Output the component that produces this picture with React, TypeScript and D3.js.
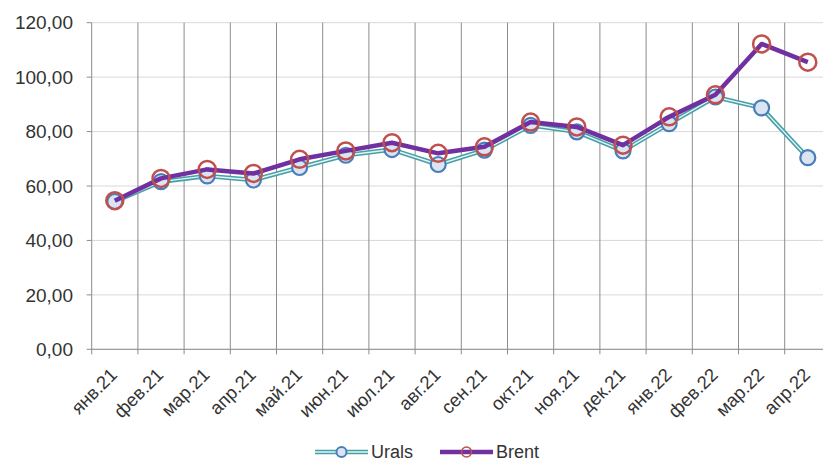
import React from 'react';
import * as d3 from 'd3';

const months = [
  'янв.21', 'фев.21', 'мар.21', 'апр.21', 'май.21', 'июн.21', 'июл.21', 'авг.21',
  'сен.21', 'окт.21', 'ноя.21', 'дек.21', 'янв.22', 'фев.22', 'мар.22', 'апр.22',
];
const urals = [54.3, 61.6, 63.7, 62.2, 66.8, 71.3, 73.4, 67.9, 73.2, 82.3, 79.9, 72.9, 82.9, 92.7, 88.7, 70.4];
const brent = [54.6, 62.8, 66.1, 64.6, 69.8, 72.9, 75.9, 72.0, 74.4, 83.5, 81.7, 75.0, 85.4, 93.5, 112.2, 105.5];
const yTicks = [0, 20, 40, 60, 80, 100, 120];

const W = 823;
const H = 461;
const left = 91.7;
const bandW = 46.2;
const fmt = (v: number) => v.toFixed(2).replace('.', ',');

export default function App() {
  const x = d3.scaleBand<string>().domain(months).range([left, left + bandW * months.length]);
  const y = d3.scaleLinear().domain([0, 120]).range([349.3, 22.7]);
  const cx = (m: string) => (x(m) as number) + x.bandwidth() / 2;
  const line = d3.line<number>().x((_, i) => cx(months[i])).y(d => y(d));
  const font = '"Liberation Sans", Arial, sans-serif';
  const boundaries = months.map(m => x(m) as number).concat([left + bandW * months.length]);

  return (
    <svg width={W} height={H} style={{ position: 'absolute', left: 0, top: 0 }} fontFamily={font}>
      <rect width={W} height={H} fill="#fff" />
      {/* horizontal grid */}
      {yTicks.map(t => (
        <line key={'h' + t} x1={left} x2={W} y1={y(t)} y2={y(t)} stroke="#d9d9d9" strokeWidth={1} />
      ))}
      {/* vertical grid */}
      {boundaries.slice(1).map((b, i) => (
        <line key={'v' + i} x1={b} x2={b} y1={y(120)} y2={y(0) + 5} stroke="#8c8c8c" strokeWidth={1} />
      ))}
      {/* axes */}
      <line x1={left} x2={left} y1={y(120)} y2={y(0) + 5} stroke="#8c8c8c" />
      <line x1={left} x2={W} y1={y(0)} y2={y(0)} stroke="#8c8c8c" />
      {yTicks.map(t => (
        <g key={'yt' + t}>
          <line x1={left - 5} x2={left} y1={y(t)} y2={y(t)} stroke="#8c8c8c" />
          <text x={73} y={y(t)} dy="0.35em" textAnchor="end" fontSize={19} fill="#333">
            {fmt(t)}
          </text>
        </g>
      ))}
      {months.map(m => (
        <text
          key={'xl' + m}
          transform={`translate(${cx(m) - 1},${y(0) + 22}) rotate(-45)`}
          textAnchor="end"
          dy="0.35em"
          fontSize={18.5}
          fill="#333"
        >
          {m}
        </text>
      ))}
      {/* Urals */}
      <path d={line(urals) || ''} fill="none" stroke="#45a0a8" strokeWidth={4.5} strokeLinejoin="round" />
      <path d={line(urals) || ''} fill="none" stroke="#e8f3f4" strokeWidth={1.4} strokeLinejoin="round" />
      {urals.map((v, i) => (
        <circle key={'u' + i} cx={cx(months[i])} cy={y(v)} r={7.5} fill="#dbe5f1" stroke="#4a7ebb" strokeWidth={2.2} />
      ))}
      {/* Brent */}
      <path d={line(brent) || ''} fill="none" stroke="#7030a0" strokeWidth={4.5} strokeLinejoin="round" />
      {brent.map((v, i) => (
        <circle key={'b' + i} cx={cx(months[i])} cy={y(v)} r={8.5} fill="none" stroke="#c0504d" strokeWidth={2.5} />
      ))}
      {/* legend */}
      <g>
        <line x1={315} x2={368} y1={452} y2={452} stroke="#45a0a8" strokeWidth={4.5} />
        <line x1={315} x2={368} y1={452} y2={452} stroke="#e8f3f4" strokeWidth={1.4} />
        <circle cx={341.5} cy={452} r={5} fill="#dbe5f1" stroke="#4a7ebb" strokeWidth={2} />
        <text x={371} y={457.5} fontSize={18} fill="#333">Urals</text>
        <line x1={440} x2={493} y1={452} y2={452} stroke="#7030a0" strokeWidth={4.5} />
        <circle cx={466.5} cy={452} r={5} fill="none" stroke="#c0504d" strokeWidth={1.5} />
        <text x={496} y={457.5} fontSize={18} fill="#333">Brent</text>
      </g>
    </svg>
  );
}
